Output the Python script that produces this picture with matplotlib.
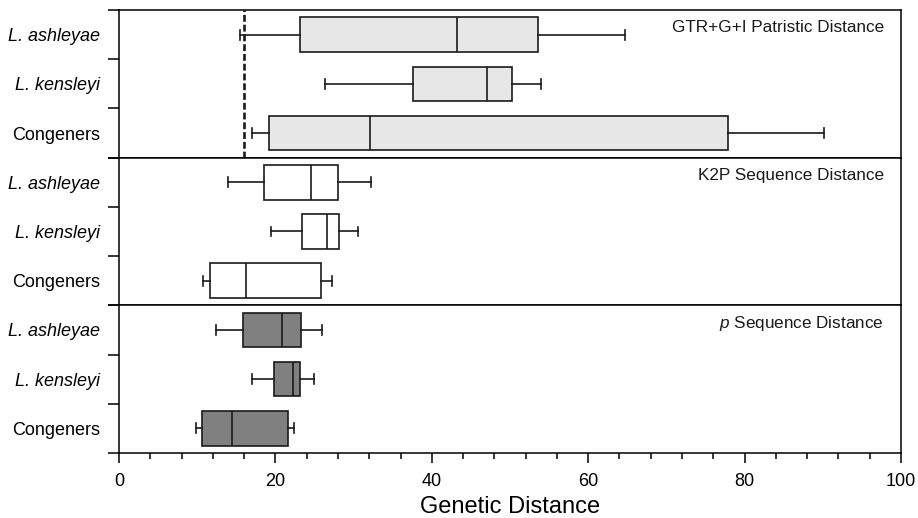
import matplotlib
matplotlib.use('Agg')
import matplotlib.pyplot as plt
from matplotlib.ticker import MultipleLocator, FixedLocator, NullFormatter

plt.rcParams['font.family'] = ['Liberation Sans', 'DejaVu Sans']
plt.rcParams['mathtext.fontset'] = 'custom'
plt.rcParams['mathtext.it'] = 'Liberation Sans:italic'
plt.rcParams['mathtext.rm'] = 'Liberation Sans'

groups = ['L. ashleyae', 'L. kensleyi', 'Congeners']
italic = [True, True, False]
titles = ['GTR+G+I Patristic Distance', 'K2P Sequence Distance', r'$\it{p}$ Sequence Distance']
colors = ['#e6e7e6', '#ffffff', '#808080']

# whisker low, q1, median, q3, whisker high (per group)
gtr_lo = [15.5, 26.3, 17.0]
gtr_q1 = [23.1, 37.6, 19.2]
gtr_med = [43.2, 47.0, 32.1]
gtr_q3 = [53.6, 50.2, 77.9]
gtr_hi = [64.7, 54.0, 90.2]

k2p_lo = [13.9, 19.5, 10.8]
k2p_q1 = [18.5, 23.4, 11.6]
k2p_med = [24.6, 26.6, 16.2]
k2p_q3 = [28.0, 28.1, 25.8]
k2p_hi = [32.2, 30.6, 27.3]

p_lo = [12.4, 17.0, 9.8]
p_q1 = [15.9, 19.8, 10.6]
p_med = [20.9, 22.2, 14.4]
p_q3 = [23.3, 23.1, 21.6]
p_hi = [26.0, 24.9, 22.4]

cutoff = 16.0

panels = [
    (gtr_lo, gtr_q1, gtr_med, gtr_q3, gtr_hi),
    (k2p_lo, k2p_q1, k2p_med, k2p_q3, k2p_hi),
    (p_lo, p_q1, p_med, p_q3, p_hi),
]

fig, axes = plt.subplots(3, 1, figsize=(9.18, 5.18), dpi=100, sharex=True)
fig.subplots_adjust(left=0.1296, right=0.9815, top=0.9807, bottom=0.1255, hspace=0)

lw = 1.2
positions = [3, 2, 1]
for i, ax in enumerate(axes):
    lo, q1, med, q3, hi = panels[i]
    stats = []
    for j in range(3):
        stats.append({'whislo': lo[j], 'q1': q1[j], 'med': med[j], 'q3': q3[j],
                      'whishi': hi[j], 'fliers': []})
    ax.bxp(stats, positions=positions, vert=False, widths=0.7, capwidths=0.2,
           showfliers=False, patch_artist=True,
           boxprops=dict(facecolor=colors[i], edgecolor='#1a1a1a', linewidth=lw),
           medianprops=dict(color='#1a1a1a', linewidth=lw),
           whiskerprops=dict(color='#1a1a1a', linewidth=lw),
           capprops=dict(color='#1a1a1a', linewidth=lw))
    ax.set_ylim(0.5, 3.5)
    ax.set_xlim(0, 100)
    ax.yaxis.set_major_locator(FixedLocator([0.5, 1.5, 2.5, 3.5]))
    ax.yaxis.set_major_formatter(NullFormatter())
    ax.yaxis.set_minor_locator(FixedLocator(positions))
    ax.set_yticklabels(groups, minor=True)
    for lab, it in zip(ax.get_yticklabels(minor=True), italic):
        lab.set_fontstyle('italic' if it else 'normal')
    ax.tick_params(axis='y', which='major', direction='out', length=8, width=1.1)
    ax.tick_params(axis='y', which='minor', length=0, pad=13.5, labelsize=13)
    for s in ax.spines.values():
        s.set_linewidth(1.1)
    ax.text(0.978, 0.88, titles[i], transform=ax.transAxes, ha='right', va='center',
            fontsize=12.3, color='#1a1a1a')
    if i < 2:
        ax.tick_params(axis='x', which='both', length=0, labelbottom=False)

axes[0].axvline(cutoff, color='#1a1a1a', linestyle=(0, (2.6, 1.1)), linewidth=1.9)

ax = axes[2]
ax.xaxis.set_major_locator(MultipleLocator(20))
ax.xaxis.set_minor_locator(MultipleLocator(4))
ax.tick_params(axis='x', which='major', direction='out', length=7, width=1.1, labelsize=13, pad=7.5)
ax.tick_params(axis='x', which='minor', direction='out', length=4, width=1.1)
ax.set_xlabel('Genetic Distance', fontsize=17, labelpad=4.5)

fig.savefig('out.png', dpi=100)
